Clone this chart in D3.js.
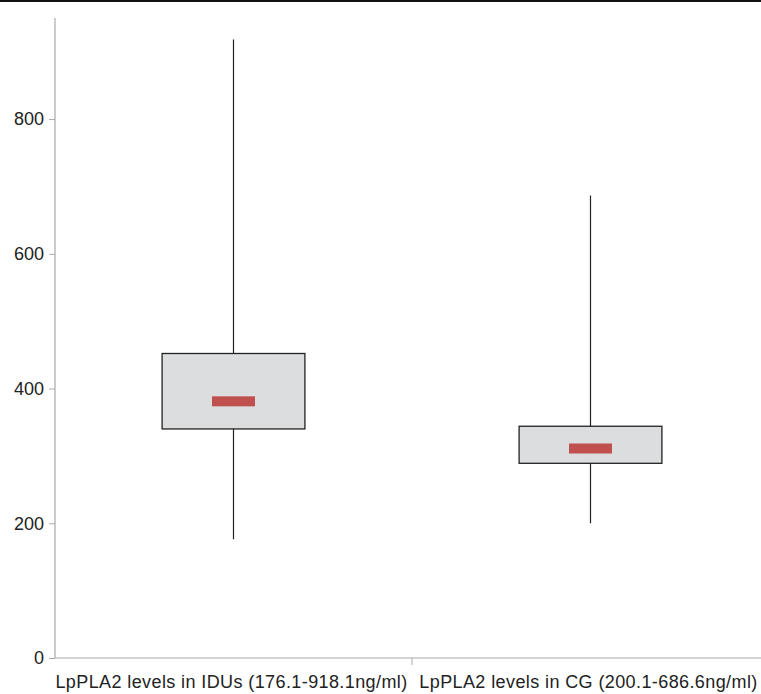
<!DOCTYPE html>
<html><head><meta charset="utf-8">
<script src="https://cdn.jsdelivr.net/npm/d3@7"></script>
<style>body{margin:0;background:#fff}svg{display:block}</style>
</head><body>
<svg id="c" width="761" height="694"></svg>
<script>
const categories = ["LpPLA2 levels in IDUs (176.1-918.1ng/ml)", "LpPLA2 levels in CG (200.1-686.6ng/ml)"];
const whiskerMin = [176.1, 200.1];
const whiskerMax = [918.1, 686.6];
const q1 = [340, 289];
const q3 = [452, 344];
const median = [381, 311];
const yTicks = [0, 200, 400, 600, 800];

(function(){
const svg = d3.select("#c");
const W = 761;
const mLeft = 55, mBottom = 658, mTop = 18, mRight = 769;
const font = "Liberation Sans, Arial, sans-serif";

svg.append("line").attr("x1",0).attr("x2",W).attr("y1",1).attr("y2",1)
  .attr("stroke","#111").attr("stroke-width",2);

const y = d3.scaleLinear().domain([0, 950]).range([mBottom, mTop]);
const x = d3.scaleBand().domain(categories).range([mLeft, mRight]);

const data = categories.map((c,i)=>({c, lo:whiskerMin[i], hi:whiskerMax[i], q1:q1[i], q3:q3[i], med:median[i]}));

const g = svg.append("g");
const bw = x.bandwidth()*0.4;
data.forEach(d=>{
  const cx = x(d.c) + x.bandwidth()/2;
  g.append("line").attr("x1",cx).attr("x2",cx).attr("y1",y(d.hi)).attr("y2",y(d.lo))
    .attr("stroke","#222").attr("stroke-width",1.2);
  g.append("rect").attr("x",cx-bw/2).attr("width",bw).attr("y",y(d.q3)).attr("height",y(d.q1)-y(d.q3))
    .attr("fill","#dcdddf").attr("stroke","#222").attr("stroke-width",1.3);
  g.append("rect").attr("x",cx-21.5).attr("width",43).attr("y",y(d.med)-5).attr("height",10)
    .attr("fill","#c0504d");
});

const ya = svg.append("g").attr("transform",`translate(${mLeft},0)`)
  .call(d3.axisLeft(y).tickValues(yTicks).tickSize(6).tickPadding(5).tickFormat(d3.format("d")));
ya.select(".domain").attr("d",`M0,${mTop}V${mBottom}`).attr("stroke","#aaa").attr("stroke-width",1.2);
ya.selectAll(".tick line").attr("stroke","#aaa");
ya.selectAll("text").attr("font-family",font).attr("font-size",18).attr("fill","#222");

const xa = svg.append("g").attr("transform",`translate(0,${mBottom})`);
xa.append("line").attr("x1",mLeft).attr("x2",mRight).attr("stroke","#aaa").attr("stroke-width",1.2);
xa.append("line").attr("x1",x(categories[1])).attr("x2",x(categories[1])).attr("y1",0).attr("y2",7).attr("stroke","#aaa");
xa.selectAll("text.cat").data(categories).enter().append("text").attr("class","cat")
  .attr("x",d=>x(d)+x.bandwidth()/2 - 2).attr("y",30).attr("text-anchor","middle")
  .attr("font-family",font).attr("font-size",18).attr("letter-spacing",0.4).attr("fill","#222")
  .text(d=>d);
})();
</script>
</body></html>
